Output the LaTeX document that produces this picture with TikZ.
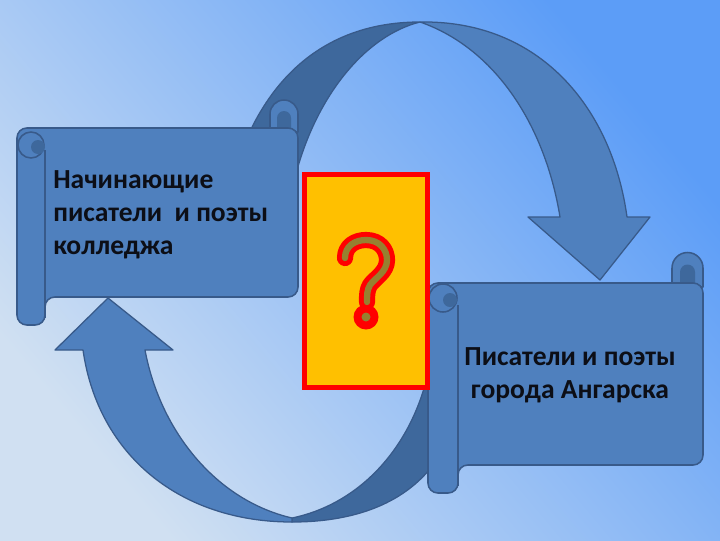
\documentclass[tikz,border=0pt]{standalone}
\usepackage{fontspec}
\setmainfont{Carlito}
\definecolor{bgTL}{RGB}{178,205,238}
\definecolor{bgTR}{RGB}{92,157,247}
\definecolor{bgMid}{RGB}{160,196,240}
\definecolor{bgBL}{RGB}{208,224,242}
\definecolor{front}{RGB}{79,128,190}
\definecolor{back}{RGB}{62,104,156}
\definecolor{edge}{RGB}{56,90,138}
\definecolor{qyellow}{RGB}{255,192,0}
\definecolor{qolive}{RGB}{150,128,48}
\definecolor{txt}{RGB}{12,14,22}
\tikzset{
  frontshape/.style={fill=front, draw=edge, line width=0.9pt, line join=round},
  backshape/.style={fill=back, draw=edge, line width=0.9pt, line join=round},
  scrollshape/.style={fill=front, draw=edge, line width=1.1pt, line join=round},
  rollline/.style={draw=edge, line width=1.1pt},
  label/.style={font=\fontsize{19.6}{23.5}\selectfont\bfseries, text=txt, inner sep=0pt}
}
\begin{document}
\begin{tikzpicture}[x=0.025cm, y=-0.025cm]
\useasboundingbox (0,0) rectangle (720,540);
\shade[shading=axis, top color=bgTR, middle color=bgMid, bottom color=bgBL, shading angle=-50] (0,0) rectangle (720,540);

% ---- top curved arrow ----
\path[backshape] (246,140) .. controls (280,62) and (340,22) .. (420,22)
  .. controls (365,36) and (318,95) .. (297,170) -- cycle;
\path[frontshape] (420,22) .. controls (540,20) and (612,108) .. (627,217)
  -- (650,217) -- (600,280) coordinate (tipA) -- (528,217) -- (560,217)
  .. controls (545,125) and (495,48) .. (420,22) -- cycle;

% ---- bottom curved arrow ----
\path[backshape] (292,522) .. controls (360,522) and (412,500) .. (440,455)
  -- (440,380) -- (425,385) .. controls (405,455) and (355,505) .. (292,518) -- cycle;
\path[frontshape] (292,522) .. controls (180,522) and (98,455) .. (83,350)
  -- (55,350) -- (108,298) coordinate (tipB) -- (173,350) -- (145,350)
  .. controls (160,430) and (215,500) .. (292,518) -- cycle;

% ---- left scroll ----
\path[scrollshape] (270,132) -- (270,114) arc[start angle=180, end angle=360, radius=14] -- (298,132) -- cycle;
\fill[back] (277,118) arc[start angle=180, end angle=360, radius=7] -- (291,128) -- (277,128) -- cycle;
\path[scrollshape, rounded corners=7] (17,128) -- (298,128) -- (298,297) -- (45,297)
  -- (45,325) -- (17,325) -- cycle;
\draw[rollline] (45,150) -- (45,318);
\draw[rollline] (31,145) circle[radius=13];
\fill[back] (38,147) circle[radius=7];
\node[label, anchor=north west, align=left] (lefttext) at (53,170)
  {Начинающие\\писатели\ \ и поэты\\колледжа};

% ---- right scroll ----
\path[scrollshape] (672,287) -- (672,268) arc[start angle=180, end angle=360, radius=15.5] -- (703,287) -- cycle;
\fill[back] (680,272) arc[start angle=180, end angle=360, radius=7.5] -- (695,283) -- (680,283) -- cycle;
\path[scrollshape, rounded corners=7] (428,283) -- (703,283) -- (703,465) -- (458,465)
  -- (458,493) -- (428,493) -- cycle;
\draw[rollline] (458,305) -- (458,486);
\draw[rollline] (443,298) circle[radius=14];
\fill[back] (450,300) circle[radius=7];
\node[label, align=center] (righttext) at (570,375)
  {Писатели и поэты\\города Ангарска};

% ---- question box ----
\node[draw=red, fill=qyellow, line width=3.6pt, minimum width=123*0.025cm, minimum height=213*0.025cm, inner sep=0pt]
  (qbox) at (366,281) {};
\draw[red, line width=11.5pt, line cap=round, line join=round]
  (345,258) .. controls (345,246) and (355,240) .. (366,240)
  .. controls (380,240) and (387,250) .. (387,260)
  .. controls (387,272) and (375,278) .. (370,285)
  .. controls (367,290) and (367,295) .. (367,302);
\fill[red] (366,317) circle[radius=12.5];
\draw[qolive, line width=4.5pt, line cap=round, line join=round]
  (345,258) .. controls (345,246) and (355,240) .. (366,240)
  .. controls (380,240) and (387,250) .. (387,260)
  .. controls (387,272) and (375,278) .. (370,285)
  .. controls (367,290) and (367,295) .. (367,302);
\fill[qolive] (366,317) circle[radius=4.5];
\end{tikzpicture}
\end{document}
